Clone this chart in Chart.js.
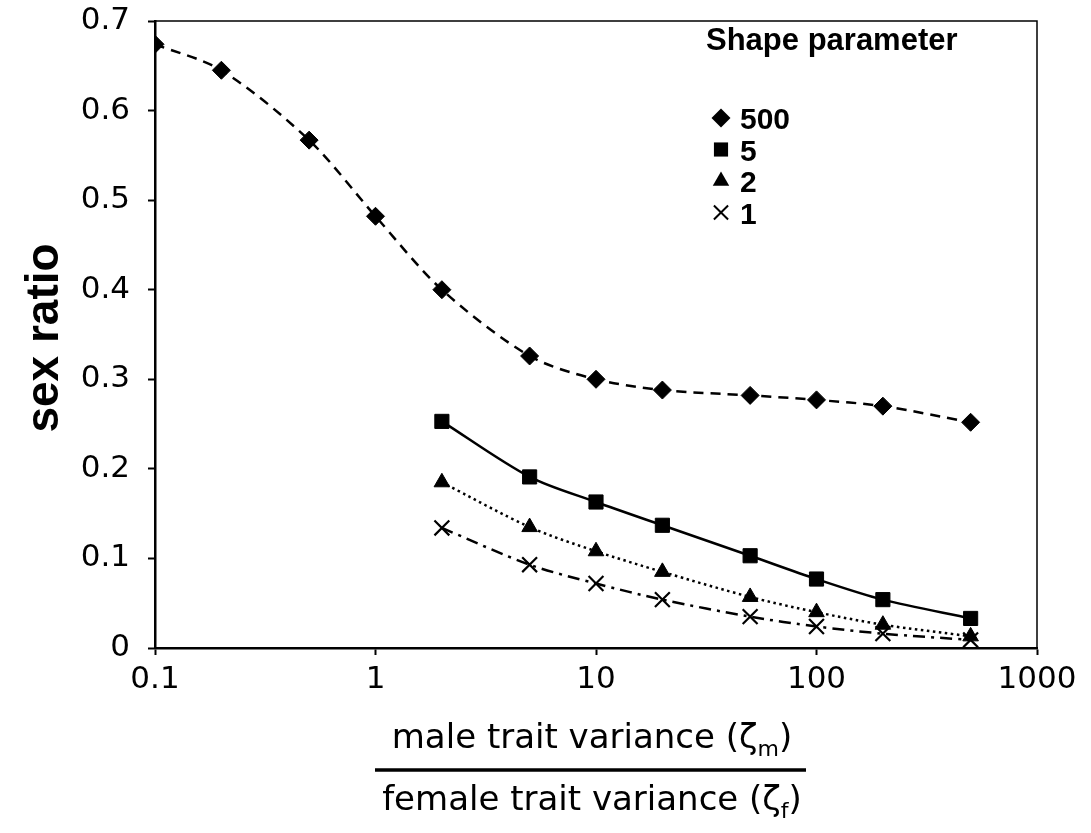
<!DOCTYPE html>
<html><head><meta charset="utf-8">
<script src="https://cdn.jsdelivr.net/npm/chart.js@4.4.1/dist/chart.umd.min.js"></script>
<style>html,body{margin:0;padding:0;background:#fff}#wrap{width:1091px;height:833px;position:relative}</style>
</head><body><div id="wrap"><canvas id="c" width="1091" height="833"></canvas></div>
<script>
// ---- data ----
const xShape500 = [0.1, 0.2, 0.5, 1, 2, 5, 10, 20, 50, 100, 200, 500];
const yShape500 = [0.674, 0.645, 0.567, 0.482, 0.400, 0.326, 0.300, 0.288, 0.282, 0.277, 0.270, 0.252];
const xShapeLow = [2, 5, 10, 20, 50, 100, 200, 500];
const yShape5 = [0.253, 0.191, 0.163, 0.137, 0.103, 0.077, 0.054, 0.033];
const yShape2 = [0.185, 0.135, 0.108, 0.085, 0.057, 0.040, 0.026, 0.013];
const yShape1 = [0.134, 0.093, 0.072, 0.054, 0.035, 0.024, 0.016, 0.009];
const seriesLabels = ['500', '5', '2', '1'];
const legendTitle = 'Shape parameter';
const xTickValues = [0.1, 1, 10, 100, 1000];
const xTickLabels = ['0.1', '1', '10', '100', '1000'];
const yTickValues = [0, 0.1, 0.2, 0.3, 0.4, 0.5, 0.6, 0.7];
const yTickLabels = ['0', '0.1', '0.2', '0.3', '0.4', '0.5', '0.6', '0.7'];
const yTitle = 'sex ratio';
const xTitleTop = ['male trait variance (\u03B6', 'm', ')'];
const xTitleBottom = ['female trait variance (\u03B6', 'f', ')'];

const pts = (xs, ys) => xs.map((x, i) => ({x: x, y: ys[i]}));

const styles = [
  {ps: 'rectRot', r: 9, bw: 1, dash: [10, 7]},
  {ps: 'rect', r: 10, bw: 1, dash: []},
  {ps: 'triangle', r: 9, bw: 1, dash: [2.5, 3.5]},
  {ps: 'crossRot', r: 10.5, bw: 2.2, dash: [12, 6, 3, 6]}
];
const dataArr = [pts(xShape500, yShape500), pts(xShapeLow, yShape5), pts(xShapeLow, yShape2), pts(xShapeLow, yShape1)];

const datasets = dataArr.map((d, i) => ({
  label: seriesLabels[i],
  data: d,
  borderColor: '#000',
  backgroundColor: '#000',
  borderWidth: 2.5,
  borderDash: styles[i].dash,
  pointStyle: styles[i].ps,
  pointRadius: styles[i].r,
  pointBorderWidth: styles[i].bw,
  pointBackgroundColor: '#000',
  pointBorderColor: '#000',
  tension: 0.3,
  fill: false
}));

function marker(ctx, style, x, y, r) {
  ctx.save();
  ctx.fillStyle = '#000'; ctx.strokeStyle = '#000';
  ctx.beginPath();
  if (style === 'rectRot') {
    ctx.moveTo(x - r, y); ctx.lineTo(x, y - r); ctx.lineTo(x + r, y); ctx.lineTo(x, y + r); ctx.closePath(); ctx.fill();
  } else if (style === 'rect') {
    const s = r * Math.SQRT1_2; ctx.rect(x - s, y - s, 2 * s, 2 * s); ctx.fill();
  } else if (style === 'triangle') {
    ctx.moveTo(x, y - r);
    ctx.lineTo(x + r * Math.sin(2 * Math.PI / 3), y - r * Math.cos(2 * Math.PI / 3));
    ctx.lineTo(x + r * Math.sin(4 * Math.PI / 3), y - r * Math.cos(4 * Math.PI / 3));
    ctx.closePath(); ctx.fill();
  } else {
    const o = r * Math.SQRT1_2; ctx.lineWidth = 2;
    ctx.moveTo(x - o, y - o); ctx.lineTo(x + o, y + o); ctx.moveTo(x + o, y - o); ctx.lineTo(x - o, y + o); ctx.stroke();
  }
  ctx.restore();
}

function drawSubText(ctx, parts, cx, baseline, size, subSize) {
  ctx.font = size + 'px "DejaVu Sans"';
  const w0 = ctx.measureText(parts[0]).width;
  const w2 = ctx.measureText(parts[2]).width;
  ctx.font = subSize + 'px "DejaVu Sans"';
  const w1 = ctx.measureText(parts[1]).width;
  let x = cx - (w0 + w1 + w2) / 2;
  ctx.textAlign = 'left'; ctx.textBaseline = 'alphabetic';
  ctx.font = size + 'px "DejaVu Sans"'; ctx.fillText(parts[0], x, baseline); x += w0;
  ctx.font = subSize + 'px "DejaVu Sans"'; ctx.fillText(parts[1], x, baseline + 8); x += w1;
  ctx.font = size + 'px "DejaVu Sans"'; ctx.fillText(parts[2], x, baseline);
}

const decor = {
  id: 'decor',
  afterDraw(chart) {
    const ctx = chart.ctx, a = chart.chartArea;
    ctx.save();
    // frame top/right
    ctx.strokeStyle = '#000'; ctx.lineWidth = 1.5;
    ctx.beginPath(); ctx.moveTo(a.left, a.top); ctx.lineTo(a.right, a.top); ctx.lineTo(a.right, a.bottom); ctx.stroke();
    // legend
    ctx.fillStyle = '#000';
    ctx.font = 'bold 31px "Liberation Sans"';
    ctx.textAlign = 'left'; ctx.textBaseline = 'alphabetic';
    ctx.fillText(legendTitle, 706, 50);
    const rs = [9.5, 10, 9.5, 10];
    seriesLabels.forEach((lab, i) => {
      const base = 129 + i * 31.5;
      marker(ctx, styles[i].ps, 721, base - 11, rs[i]);
      ctx.font = 'bold 30px "Liberation Sans"';
      ctx.fillText(lab, 740, base);
    });
    // y title
    ctx.save();
    ctx.translate(58, 338); ctx.rotate(-Math.PI / 2);
    ctx.font = 'bold 46px "Liberation Sans"'; ctx.textAlign = 'center'; ctx.textBaseline = 'alphabetic';
    ctx.fillText(yTitle, 0, 0);
    ctx.restore();
    // x title as fraction
    drawSubText(ctx, xTitleTop, 592, 748, 34, 22);
    ctx.lineWidth = 3.5;
    ctx.beginPath(); ctx.moveTo(375, 770); ctx.lineTo(806, 770); ctx.stroke();
    drawSubText(ctx, xTitleBottom, 592, 810, 34, 22);
    ctx.restore();
  }
};

new Chart(document.getElementById('c'), {
  type: 'line',
  data: {datasets: datasets},
  plugins: [decor],
  options: {
    responsive: false, animation: false, devicePixelRatio: 1,
    layout: {padding: {left: 0, top: 21, right: 54, bottom: 0}},
    plugins: {legend: {display: false}, tooltip: {enabled: false}},
    scales: {
      x: {
        type: 'logarithmic', min: 0.1, max: 1000,
        afterBuildTicks: s => { s.ticks = xTickValues.map(v => ({value: v, major: true})); },
        afterFit: s => { s.height = 185; s.paddingLeft = 0; s.paddingRight = 0; },
        ticks: {autoSkip: false, maxRotation: 0, color: '#000', padding: 6,
          font: {family: 'DejaVu Sans', size: 31},
          callback: (v, i) => xTickLabels[i]},
        grid: {display: true, drawOnChartArea: false, drawTicks: true, tickLength: 7, tickColor: '#000', tickWidth: 2},
        border: {display: true, color: '#000', width: 2.5},
        title: {display: false}
      },
      y: {
        type: 'linear', min: 0, max: 0.7,
        afterBuildTicks: s => { s.ticks = yTickValues.map(v => ({value: v})); },
        afterFit: s => { s.width = 155; s.paddingTop = 0; s.paddingBottom = 0; },
        ticks: {autoSkip: false, color: '#000', padding: 18,
          font: {family: 'DejaVu Sans', size: 31},
          callback: (v, i) => yTickLabels[i]},
        grid: {display: true, drawOnChartArea: false, drawTicks: true, tickLength: 7, tickColor: '#000', tickWidth: 2},
        border: {display: true, color: '#000', width: 2.5},
        title: {display: false}
      }
    }
  }
});
</script></body></html>
